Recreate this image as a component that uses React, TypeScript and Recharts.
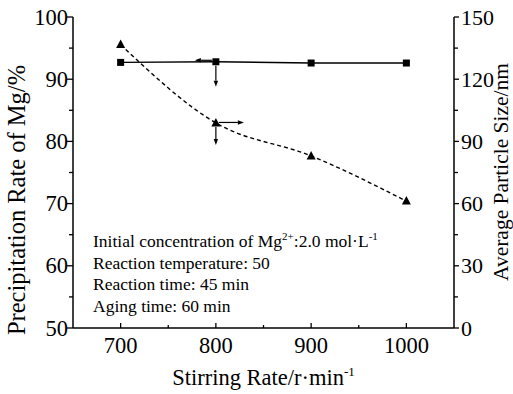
import React from "react";
import { ComposedChart, Line, XAxis, YAxis, Label, Customized } from "recharts";

const speeds = [700, 800, 900, 1000];
const precipitationRate = [92.7, 92.8, 92.6, 92.6];
const particleSize = [136.7, 98.9, 83.0, 61.2];

const xTicks = [700, 750, 800, 850, 900, 950, 1000];
const xMajor = [700, 800, 900, 1000];
const leftTicks = [50, 55, 60, 65, 70, 75, 80, 85, 90, 95, 100];
const leftMajor = [50, 60, 70, 80, 90, 100];
const rightTicks = [0, 15, 30, 45, 60, 75, 90, 105, 120, 135, 150];
const rightMajor = [0, 30, 60, 90, 120, 150];

// conditions printed in the lower-left of the plot
const notes = [
  [{ t: "Initial concentration of Mg" }, { t: "2+", sup: true }, { t: ":2.0 mol·L" }, { t: "-1", sup: true }],
  [{ t: "Reaction temperature: 50" }],
  [{ t: "Reaction time: 45 min" }],
  [{ t: "Aging time: 60 min" }],
];

const data = speeds.map((s, i) => ({ speed: s, rate: precipitationRate[i], size: particleSize[i] }));

const FONT = "'Liberation Serif', 'DejaVu Serif', serif";
const INK = "#000";
const txt = (size: number) => ({ fontFamily: FONT, fontSize: size, fill: INK });

function arrow(x1: number, y1: number, x2: number, y2: number, key: string) {
  const a = Math.atan2(y2 - y1, x2 - x1);
  const len = 6;
  const w = 2.2;
  const bx = x2 - len * Math.cos(a);
  const by = y2 - len * Math.sin(a);
  const px = -Math.sin(a) * w;
  const py = Math.cos(a) * w;
  return (
    <g key={key}>
      <line x1={x1} y1={y1} x2={bx} y2={by} stroke={INK} strokeWidth={1.2} />
      <polygon points={`${x2},${y2} ${bx + px},${by + py} ${bx - px},${by - py}`} fill={INK} />
    </g>
  );
}

const SquareDot = (p: any) => {
  const { cx, cy, index } = p;
  return (
    <g key={`sq-${index}`}>
      <rect x={cx - 3.5} y={cy - 3.5} width={7} height={7} fill={INK} />
      {index === 1 && arrow(cx - 4, cy - 1.5, cx - 21, cy - 1.5, "l")}
      {index === 1 && arrow(cx, cy + 4, cx, cy + 25, "d")}
    </g>
  );
};

const TriangleDot = (p: any) => {
  const { cx, cy, index } = p;
  return (
    <g key={`tr-${index}`}>
      <polygon points={`${cx},${cy - 5} ${cx - 4.5},${cy + 3.5} ${cx + 4.5},${cy + 3.5}`} fill={INK} />
      {index === 1 && arrow(cx + 3, cy - 0.5, cx + 28, cy - 0.5, "r")}
      {index === 1 && arrow(cx, cy + 4, cx, cy + 22, "d")}
    </g>
  );
};

const BottomTick = ({ x, y, payload }: any) => {
  const major = xMajor.includes(payload.value);
  return (
    <g>
      <line x1={x} y1={y} x2={x} y2={y - (major ? 5 : 3)} stroke={INK} strokeWidth={1.3} />
      {major && (
        <text x={x} y={y + 25} textAnchor="middle" style={txt(22.5)}>
          {payload.value}
        </text>
      )}
    </g>
  );
};

const TopTick = ({ x, y, payload }: any) => {
  const major = xMajor.includes(payload.value);
  return <line x1={x} y1={y} x2={x} y2={y + (major ? 5 : 3)} stroke={INK} strokeWidth={1.3} />;
};

const LeftTick = ({ x, y, payload }: any) => {
  const major = leftMajor.includes(payload.value);
  return (
    <g>
      <line x1={x} y1={y} x2={x - (major ? 6 : 4)} y2={y} stroke={INK} strokeWidth={1.3} />
      {major && (
        <text x={x - 5} y={y + 7.5} textAnchor="end" style={txt(22.5)}>
          {payload.value}
        </text>
      )}
    </g>
  );
};

const RightTick = ({ x, y, payload }: any) => {
  const major = rightMajor.includes(payload.value);
  return (
    <g>
      <line x1={x} y1={y} x2={x + (major ? 5 : 4)} y2={y} stroke={INK} strokeWidth={1.3} />
      {major && (
        <text x={x + 7} y={y + 7.5} textAnchor="start" style={txt(22)}>
          {payload.value}
        </text>
      )}
    </g>
  );
};

const NoteBox = () => (
  <g>
    {notes.map((line, i) => (
      <text key={i} x={93} y={247 + i * 21.7} style={txt(17.5)}>
        {line.map((seg: any, j) =>
          seg.sup ? (
            <tspan key={j} dy={-7} style={{ fontSize: 11 }}>
              {seg.t}
            </tspan>
          ) : (
            <tspan key={j} dy={j > 0 && (line[j - 1] as any).sup ? 7 : 0}>
              {seg.t}
            </tspan>
          )
        )}
      </text>
    ))}
  </g>
);

export default function App() {
  return (
    <div style={{ position: "absolute", left: 0, top: 0, background: "#fff", fontFamily: FONT }}>
      <ComposedChart width={513} height={394} data={data} margin={{ top: 17, right: 9, bottom: 26, left: 23 }}>
        <XAxis
          xAxisId="bottom"
          dataKey="speed"
          type="number"
          domain={[650, 1050]}
          ticks={xTicks}
          interval={0}
          tickLine={false}
          tickSize={0}
          tickMargin={0}
          tick={BottomTick}
          axisLine={{ stroke: INK, strokeWidth: 1.5 }}
          height={40}
        >
          <Label
            content={({ viewBox }: any) => (
              <text x={viewBox.x + viewBox.width / 2} y={385} textAnchor="middle" style={txt(22.5)}>
                Stirring Rate/r·min
                <tspan dy={-9} style={{ fontSize: 13 }}>
                  -1
                </tspan>
              </text>
            )}
          />
        </XAxis>
        <XAxis
          xAxisId="top"
          orientation="top"
          type="number"
          domain={[650, 1050]}
          ticks={xTicks}
          interval={0}
          tickLine={false}
          tickSize={0}
          tickMargin={0}
          tick={TopTick}
          axisLine={{ stroke: INK, strokeWidth: 1.5 }}
          height={0}
        />
        <YAxis
          yAxisId="left"
          type="number"
          domain={[50, 100]}
          ticks={leftTicks}
          interval={0}
          tickLine={false}
          tickSize={0}
          tickMargin={0}
          tick={LeftTick}
          axisLine={{ stroke: INK, strokeWidth: 1.5 }}
          width={50}
        >
          <Label
            content={() => (
              <text transform="translate(25,200) rotate(-90)" textAnchor="middle" style={txt(24.5)}>
                Precipitation Rate of Mg/%
              </text>
            )}
          />
        </YAxis>
        <YAxis
          yAxisId="right"
          orientation="right"
          type="number"
          domain={[0, 150]}
          ticks={rightTicks}
          interval={0}
          tickLine={false}
          tickSize={0}
          tickMargin={0}
          tick={RightTick}
          axisLine={{ stroke: INK, strokeWidth: 1.5 }}
          width={50}
        >
          <Label
            content={() => (
              <text transform="translate(507.5,172) rotate(-90)" textAnchor="middle" style={txt(21.5)}>
                Average Particle Size/nm
              </text>
            )}
          />
        </YAxis>
        <Line
          xAxisId="bottom"
          yAxisId="left"
          dataKey="rate"
          type="linear"
          stroke={INK}
          strokeWidth={1.4}
          dot={SquareDot}
          activeDot={false}
          isAnimationActive={false}
        />
        <Line
          xAxisId="bottom"
          yAxisId="right"
          dataKey="size"
          type="monotone"
          stroke={INK}
          strokeWidth={1.4}
          strokeDasharray="4 3"
          dot={TriangleDot}
          activeDot={false}
          isAnimationActive={false}
        />
        <Customized component={NoteBox} />
      </ComposedChart>
    </div>
  );
}
